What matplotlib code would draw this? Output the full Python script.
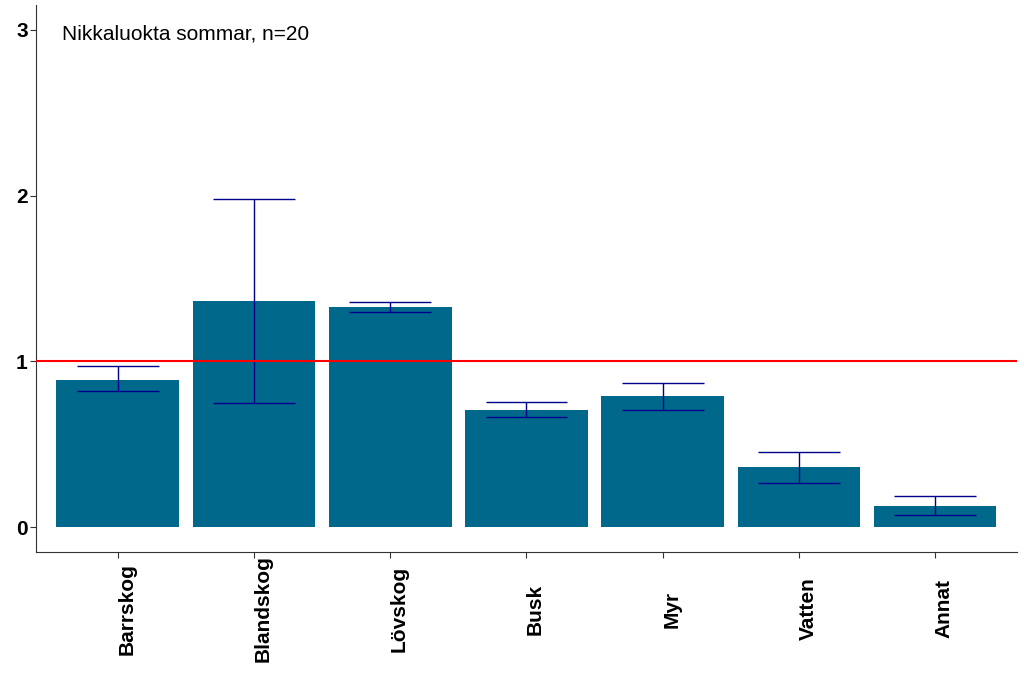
import matplotlib.pyplot as plt
import matplotlib.transforms as mtransforms
import numpy as np

plt.rcParams['font.family'] = ['Liberation Sans', 'DejaVu Sans']

# Habitat selection ratios
habitat = ['Barrskog', 'Blandskog', 'Lövskog', 'Busk', 'Myr', 'Vatten', 'Annat']
ratio = [0.89, 1.365, 1.33, 0.705, 0.79, 0.36, 0.13]
lower = [0.82, 0.75, 1.30, 0.665, 0.707, 0.268, 0.073]
upper = [0.97, 1.98, 1.357, 0.753, 0.869, 0.455, 0.188]

x = np.arange(1, len(habitat) + 1)

fig, ax = plt.subplots(figsize=(10.24, 6.86), dpi=100)
fig.subplots_adjust(left=0.0352, right=0.993, bottom=0.1953, top=0.993)

ax.bar(x, ratio, width=0.9, color='#00688B', zorder=2)
ax.errorbar(x, ratio,
            yerr=[np.array(ratio) - np.array(lower), np.array(upper) - np.array(ratio)],
            fmt='none', ecolor='#00008B', elinewidth=1, capsize=0, zorder=3)
# wide caps like ggplot geom_errorbar
ax.hlines(lower, x - 0.3, x + 0.3, color='#00008B', lw=1, zorder=3)
ax.hlines(upper, x - 0.3, x + 0.3, color='#00008B', lw=1, zorder=3)

ax.axhline(1, color='red', lw=1.5, zorder=4)

ax.text(0.59, 2.975, 'Nikkaluokta sommar, n=20', fontsize=15, ha='left', va='center')

ax.set_xlim(0.4, 7.6)
ax.set_ylim(-0.15, 3.15)
ax.set_yticks([0, 1, 2, 3])
ax.set_xticks(x)
ax.set_xticklabels(habitat, rotation=90, va='center', ha='center')
ax.tick_params(axis='x', pad=37)
ax.tick_params(axis='y', pad=2)
ax.tick_params(length=4, color='#333333', labelsize=15)
shift = mtransforms.ScaledTranslation(0.09, 0, fig.dpi_scale_trans)
for lab in ax.get_xticklabels():
    lab.set_transform(lab.get_transform() + shift)
for lab in ax.get_xticklabels() + ax.get_yticklabels():
    lab.set_fontweight('bold')

for s in ['top', 'right']:
    ax.spines[s].set_visible(False)
for s in ['left', 'bottom']:
    ax.spines[s].set_color('#333333')

plt.savefig('out.png')
